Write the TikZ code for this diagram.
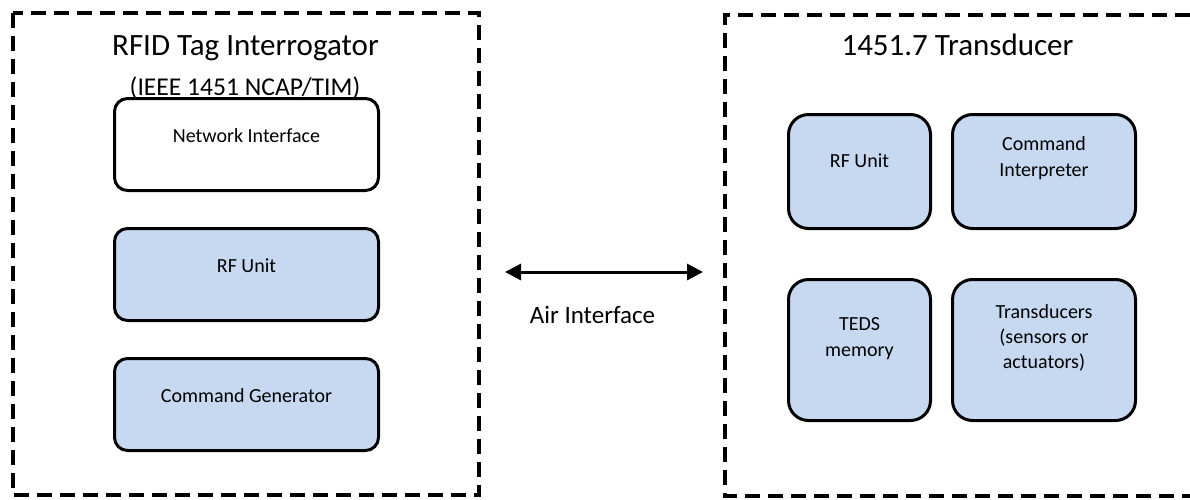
\documentclass[tikz,border=0pt]{standalone}
\usepackage{fontspec}
\setmainfont{Carlito}
\usetikzlibrary{arrows.meta}
\definecolor{boxblue}{HTML}{C6D9F1}
\begin{document}
\begin{tikzpicture}[x=1pt,y=-1pt,
			frame/.style={line width=4.8pt,dash pattern=on 15pt off 8pt},
			blk/.style={draw,line width=3pt,rounded corners=13pt,fill=boxblue,inner sep=0pt},
			txt/.style={font=\fontsize{20}{26}\selectfont,align=center,inner sep=0pt},
			big/.style={font=\fontsize{31}{37}\selectfont,inner sep=0pt,anchor=base},
			mid/.style={font=\fontsize{25}{30}\selectfont,inner sep=0pt,anchor=base}]
			\useasboundingbox(0,0)rectangle(1190,499);
			\draw[frame](13,13)rectangle(479,495);
			\draw[frame](1190,15)--(725,15)--(725,496)--(1190,496);
			\node[big](ltitle)at(245.5,55){RFID Tag Interrogator};
			\node[mid,font=\fontsize{25.6}{30}\selectfont](lsub)at(245,95){(IEEE 1451 NCAP/TIM)};
			\node[big](rtitle)at(957.5,55){1451.7 Transducer};
			\node[blk,fill=white,minimum width=264pt,minimum height=92pt](net)at(246.5,144.5){};
			\node[blk,minimum width=264pt,minimum height=92pt](rfl)at(246.5,274.5){};
			\node[blk,minimum width=264pt,minimum height=92pt](gen)at(246.5,404.5){};
			\node[blk,rounded corners=20pt,minimum width=142pt,minimum height=114pt](rfr)at(859.5,171.5){};
			\node[blk,rounded corners=20pt,minimum width=183pt,minimum height=114pt](intp)at(1044,171.5){};
			\node[blk,rounded corners=20pt,minimum width=142pt,minimum height=141pt](teds)at(859.5,350){};
			\node[blk,rounded corners=20pt,minimum width=183pt,minimum height=141pt](trd)at(1044,350){};
			\node[txt,anchor=base](netT)at(net.center|-0,142){Network Interface};
			\node[txt,anchor=base](rflT)at(rfl.center|-0,272){RF Unit};
			\node[txt,anchor=base](genT)at(gen.center|-0,402){Command Generator};
			\node[txt,anchor=base](rfrT)at(rfr.center|-0,167){RF Unit};
			\node[txt](intpT)at(intp.center|-0,158){Command\\Interpreter};
			\node[txt](tedsT)at(teds.center|-0,339){TEDS\\memory};
			\node[txt,font=\fontsize{20}{25}\selectfont](trdT)at(trd.center|-0,337.5){Transducers\\(sensors or\\actuators)};
			\coordinate(airL)at(505,272);
			\coordinate(airR)at(703,272);
			\draw[line width=3pt,{Triangle[length=16pt,width=16pt]}-{Triangle[length=16pt,width=16pt]}](airL)--(airR);
			\node[mid](air)at(592.5,323){Air Interface};
		\end{tikzpicture}
\end{document}
